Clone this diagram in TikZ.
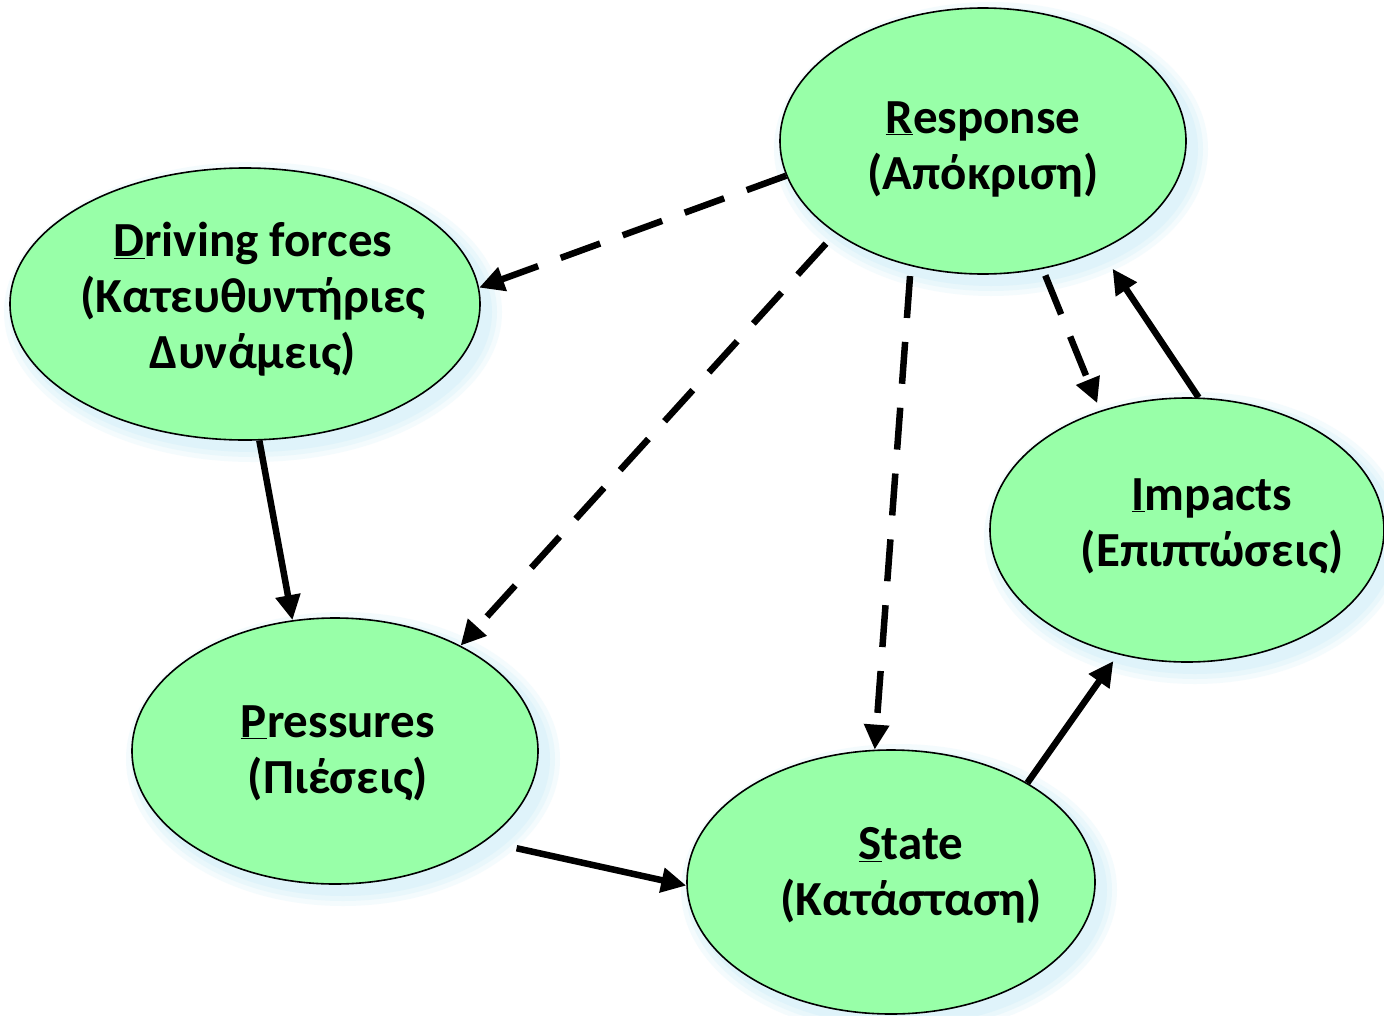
\documentclass[tikz,border=0pt]{standalone}
\usepackage{fontspec}
\setmainfont{Carlito}
\usetikzlibrary{arrows.meta,shapes.geometric}
\definecolor{nodegreen}{RGB}{152,255,168}
\definecolor{glowblue}{RGB}{214,240,250}
\begin{document}
\begin{tikzpicture}[x=1pt,y=-1pt,
  ell/.style={ellipse, draw=black, line width=1.6pt, fill=nodegreen, inner sep=0pt},
  lbl/.style={align=center, font=\bfseries\fontsize{49}{56}\selectfont},
  conn/.style={line width=6.5pt, -{Triangle[length=25pt,width=24pt]}},
  dsh/.style={conn, dash pattern=on 42pt off 24pt}]
\useasboundingbox (0,0) rectangle (1384,1015);
\fill[white] (0,0) rectangle (1384,1015);
% glow shadows
\foreach \cx/\cy/\rx/\ry in {983/141/203/133, 245/304/235/136, 1187/530/197/132, 335/751/203/133, 891/882/204/132}{
  \foreach \k/\o in {14/0.25,9/0.35,4/0.5}
    \fill[glowblue,opacity=\o] (\cx+8,\cy+8) ellipse [x radius=\rx+\k, y radius=\ry+\k];
}
% ellipses
\node[ell, minimum width=406pt, minimum height=266pt] (resp) at (983,141) {};
\node[ell, minimum width=470pt, minimum height=272pt] (drv) at (245,304) {};
\node[ell, minimum width=394pt, minimum height=264pt] (imp) at (1187,530) {};
\node[ell, minimum width=406pt, minimum height=266pt] (pres) at (335,751) {};
\node[ell, minimum width=408pt, minimum height=264pt] (state) at (891,882) {};
% labels
\node[lbl] (resptxt) at (983,149) {\underline{R}esponse\\(Απόκριση)};
\node[lbl] (drvtxt) at (253,299) {\underline{D}riving forces\\(Κατευθυντήριες\\Δυνάμεις)};
\node[lbl] (imptxt) at (1212,526) {\underline{I}mpacts\\(Επιπτώσεις)};
\node[lbl] (prestxt) at (338,753) {\underline{P}ressures\\(Πιέσεις)};
\node[lbl] (statetxt) at (911,875) {\underline{S}tate\\(Κατάσταση)};
% connectors
\draw[dsh] (resp.190.6) -- (drv.4.8);
\draw[dsh, shorten <=14pt] (resp.212.9) -- (pres.40.4);
\draw[dsh, shorten <=10pt] (resp.240.4) -- (state.97.8);
\draw[dsh, shorten <=7pt, shorten >=8pt] (resp.295.5) -- (imp.126.4);
\draw[conn, shorten >=22pt] (imp.85.3) -- (resp.317.4);
\draw[conn] (drv.276.2) -- (pres.108);
\draw[conn, shorten <=32pt] (pres.329.6) -- (state.181);
\draw[conn, shorten >=8pt] (state.36.7) -- (imp.241.4);
\end{tikzpicture}
\end{document}
